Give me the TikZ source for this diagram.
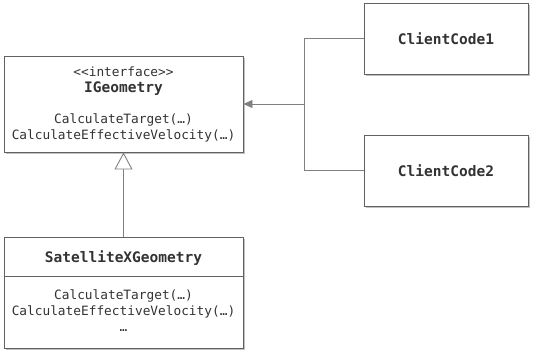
\documentclass[tikz,border=0pt]{standalone}
\usepackage{fontspec}
\newfontfamily\umlfont{DejaVu Sans Mono}
\usetikzlibrary{arrows.meta,calc,shadows}

\begin{document}
\begin{tikzpicture}[x=1pt,y=-1pt,
    umlbox/.style={
        draw=black!62,
        fill=white,
        line width=0.9pt,
        inner sep=0pt,
        drop shadow={
            shadow xshift=2pt,
            shadow yshift=-2pt,
            fill=black!35,
            opacity=0.7
        }
    },
    member/.style={
        text=black!80,
        font=\umlfont\fontsize{12.8}{16}\selectfont,
        inner sep=0pt,
        anchor=base
    },
    classname/.style={
        text=black!80,
        font=\umlfont\bfseries\fontsize{14.5}{17}\selectfont
    },
    link/.style={
        draw=black!50,
        line width=0.9pt
    }
]

\path[use as bounding box] (0,0) rectangle (536,356);

\node[umlbox, minimum width=239pt, minimum height=96pt] (iface) at (123.5,104) {};
\node[member] (ifaceStereo) at ($(iface.north)+(0,20.7)$) {<{}<interface>{}>};
\node[member, classname] (ifaceName) at ($(iface.north)+(0,37.3)$) {IGeometry};
\node[member] (ifaceTarget) at ($(iface.north)+(0,68)$) {CalculateTarget(…)};
\node[member] (ifaceVelocity) at ($(iface.north)+(0,84)$) {CalculateEffectiveVelocity(…)};

\node[umlbox, minimum width=239pt, minimum height=111pt] (sat) at (123.5,292.5) {};
\draw[draw=black!62, line width=0.9pt]
($(sat.north west)+(0,40)$) -- ($(sat.north east)+(0,40)$);
\node[member, classname] (satName) at ($(sat.north)+(0,26)$) {SatelliteXGeometry};
\node[member] (satTarget) at ($(sat.north)+(0,62.5)$) {CalculateTarget(…)};
\node[member] (satVelocity) at ($(sat.north)+(0,78.8)$) {CalculateEffectiveVelocity(…)};
\node[member] (satMore) at ($(sat.north)+(0,95)$) {…};

\node[umlbox, classname, minimum width=164pt, minimum height=71pt] (client1) at (446,38.5) {ClientCode1};
\node[umlbox, classname, minimum width=164pt, minimum height=71pt] (client2) at (446,170.5) {ClientCode2};

\coordinate (fork) at (304,104);
\draw[link] (client1.west) -| (fork);
\draw[link] (client2.west) -| (fork);
\draw[link, -{Triangle[length=9pt,width=8pt]}] (fork) -- (iface.east);

\draw[link, -{Triangle[length=17pt,width=18pt,fill=white]}] (sat.north) -- (iface.south);
\end{tikzpicture}
\end{document}
